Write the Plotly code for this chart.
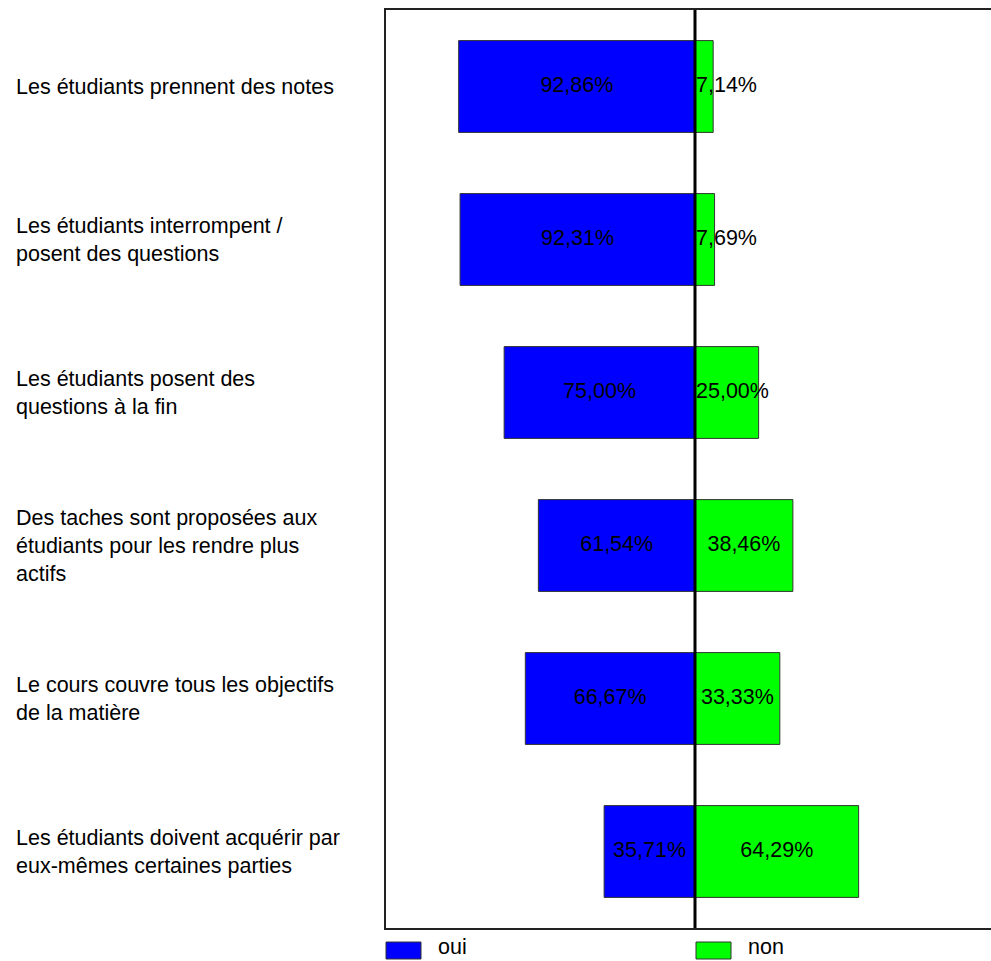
import plotly.graph_objects as go

categories = [
    "Les étudiants prennent des notes",
    "Les étudiants interrompent /<br>posent des questions",
    "Les étudiants posent des<br>questions à la fin",
    "Des taches sont proposées aux<br>étudiants pour les rendre plus<br>actifs",
    "Le cours couvre tous les objectifs<br>de la matière",
    "Les étudiants doivent acquérir par<br>eux-mêmes certaines parties",
]
oui = [92.86, 92.31, 75.00, 61.54, 66.67, 35.71]
non = [7.14, 7.69, 25.00, 38.46, 33.33, 64.29]
series_names = ["oui", "non"]

FONT = "Liberation Sans, Arial, sans-serif"
FS = 21.5
BLUE = "#0000FF"
GREEN = "#00FF00"

# plot geometry (pixels)
W, H = 991, 961
L, T, B = 386, 10, 33
PX_PER_UNIT = 2.545
center_px = 695
x_min = -(center_px - L) / PX_PER_UNIT
x_max = (W - center_px) / PX_PER_UNIT


def fmt(v):
    return f"{v:.2f}%".replace(".", ",")


fig = go.Figure()
fig.add_trace(go.Bar(
    y=categories, x=[-v for v in oui], orientation="h", name=series_names[0],
    marker=dict(color=BLUE, line=dict(color="#333333", width=1)),
    width=0.6, showlegend=False, hoverinfo="skip",
))
fig.add_trace(go.Bar(
    y=categories, x=non, orientation="h", name=series_names[1],
    marker=dict(color=GREEN, line=dict(color="#333333", width=1)),
    width=0.6, showlegend=False, hoverinfo="skip",
))

# value labels
text_w = 72  # approximate label width in px
fig.add_trace(go.Scatter(
    y=categories, x=[-v / 2 for v in oui], mode="text",
    text=[fmt(v) for v in oui], textposition="middle center",
    textfont=dict(family=FONT, size=FS, color="black"),
    showlegend=False, hoverinfo="skip",
))
fits = [v * PX_PER_UNIT > text_w for v in non]
fig.add_trace(go.Scatter(
    y=categories, x=[v / 2 if f else 0.4 for v, f in zip(non, fits)], mode="text",
    text=[fmt(v) for v in non],
    textposition=["middle center" if f else "middle right" for f in fits],
    textfont=dict(family=FONT, size=FS, color="black"),
    showlegend=False, hoverinfo="skip",
))

annotations = []
for c in categories:
    annotations.append(dict(
        x=(14 - L) / (W - L), xref="paper", y=c, yref="y",
        text=c, showarrow=False, xanchor="left", yanchor="middle", align="left",
        font=dict(family=FONT, size=FS, color="black"),
    ))

plot_h = H - T - B


def ypaper(py):
    return (H - B - py) / plot_h


shapes = [
    dict(type="line", xref="x", yref="paper", x0=0, x1=0, y0=0, y1=1,
         line=dict(color="black", width=3), layer="above"),
]
legend_items = [(series_names[0], BLUE, 386, 436), (series_names[1], GREEN, 696, 746)]
for name, col, sx, tx in legend_items:
    shapes.append(dict(
        type="rect", xref="paper", yref="paper",
        x0=(sx - L) / (W - L), x1=(sx + 35 - L) / (W - L),
        y0=ypaper(959), y1=ypaper(942),
        fillcolor=col, line=dict(color="#333333", width=1),
    ))
    annotations.append(dict(
        x=(tx - L) / (W - L), xref="paper", y=ypaper(947), yref="paper",
        text=name, showarrow=False, xanchor="left", yanchor="middle",
        font=dict(family=FONT, size=FS, color="black"),
    ))

fig.update_layout(
    width=W, height=H,
    margin=dict(l=L, r=0, t=T, b=B, pad=0),
    barmode="relative",
    plot_bgcolor="white", paper_bgcolor="white",
    font=dict(family=FONT, size=FS, color="black"),
    xaxis=dict(range=[x_min, x_max], showgrid=False, zeroline=False,
               showticklabels=False, ticks="", showline=True, mirror=True,
               linecolor="#222222", linewidth=2, fixedrange=True),
    yaxis=dict(type="category", range=[len(categories) - 0.5, -0.5],
               showgrid=False, zeroline=False, showticklabels=False, ticks="",
               showline=True, mirror=False, linecolor="#222222", linewidth=2,
               fixedrange=True),
    shapes=shapes,
    annotations=annotations,
)

fig.write_html("out.html", config={"displayModeBar": False},
               post_script="document.body.style.margin='0';")
